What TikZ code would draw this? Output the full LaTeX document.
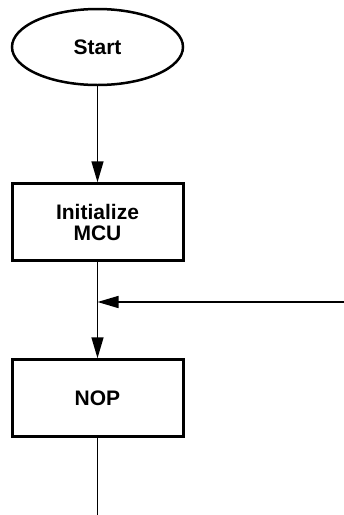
\documentclass[tikz,border=0pt]{standalone}
\usepackage{fontspec}
\setmainfont{Liberation Sans}
\usetikzlibrary{arrows.meta, positioning, shapes.geometric}

\begin{document}
\begin{tikzpicture}[
  x=1pt, y=1pt,
  node distance=96pt,
  terminal/.style={draw, ellipse, line width=2.5pt, inner sep=0pt, minimum width=171pt, minimum height=76pt, font=\bfseries\fontsize{21}{21}\selectfont},
  procbox/.style={draw, rectangle, line width=3pt, align=center, inner sep=0pt, minimum width=171pt, minimum height=77pt, font=\bfseries\fontsize{21}{21}\selectfont},
  arrow/.style={-{Triangle[length=21pt, width=12pt]}, line width=1.5pt},
  flow/.style={line width=1.5pt}
]
\useasboundingbox (0,0) rectangle (344,-515);

\node[terminal] (start) at (97.5,-47) {Start};
\node[procbox, below=of start] (init) {Initialize\\MCU};
\node[procbox, below=of init] (nop) {NOP};
\coordinate (join) at (init.south |- 0,-302);
\coordinate (loopin) at (344,-302);
\coordinate (exit) at (nop.south |- 0,-515);

\draw[arrow] (start) -- (init);
\draw[arrow] (loopin) -- (join);
\draw[arrow] (init) -- (nop);
\draw[flow] (nop) -- (exit);
\end{tikzpicture}
\end{document}
